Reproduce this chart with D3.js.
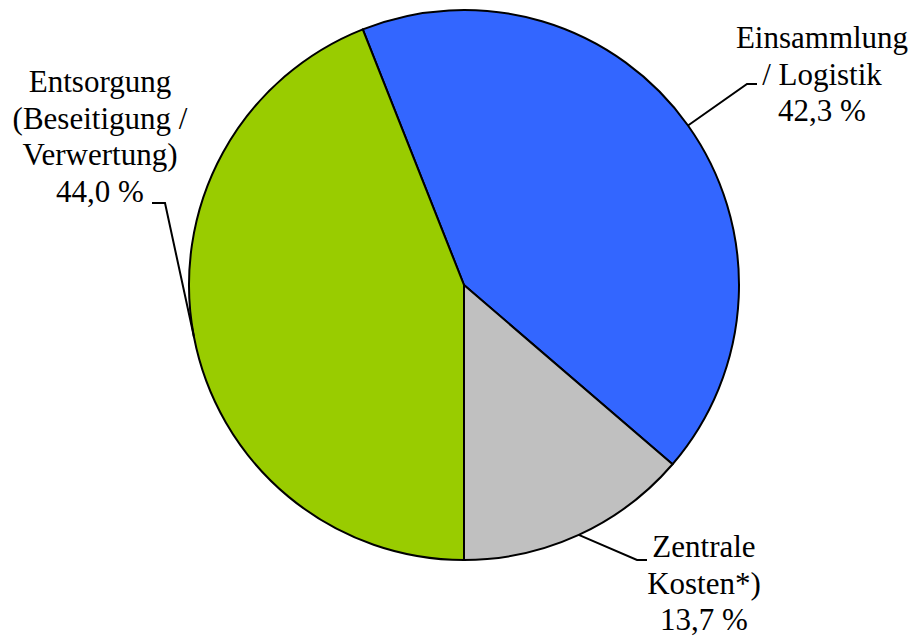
<!DOCTYPE html>
<html>
<head>
<meta charset="utf-8">
<script src="https://cdn.jsdelivr.net/npm/d3@7"></script>
<style>
  html, body { margin: 0; padding: 0; background: #fff; }
  svg { display: block; }
</style>
</head>
<body>
<svg id="chart" width="917" height="638"></svg>
<script>
// Data
const categories = ["Einsammlung / Logistik", "Zentrale Kosten*)", "Entsorgung (Beseitigung / Verwertung)"];
const values = [42.3, 13.7, 44.0];
const valueLabels = ["42,3 %", "13,7 %", "44,0 %"];
const labelLines = [
  ["Einsammlung", "/ Logistik"],
  ["Zentrale", "Kosten*)"],
  ["Entsorgung", "(Beseitigung /", "Verwertung)"]
];
const colors = ["#3366FF", "#C0C0C0", "#99CC00"];

// Layout
const cx = 464, cy = 285, r = 275;
const startDeg = -21.6;
const labelLayout = [
  { x: 822, y: 48, elbow: [747, 84], end: [757, 84] },
  { x: 704, y: 557, elbow: [637, 560], end: [647, 560] },
  { x: 100, y: 92, elbow: [165, 203], end: [152, 203] }
];
const lineH = 36.5;
const fontFamily = "'Liberation Serif', Tinos, 'DejaVu Serif', 'Times New Roman', serif";

const svg = d3.select("#chart");
const g = svg.append("g").attr("transform", `translate(${cx},${cy})`);

const start = startDeg * Math.PI / 180;
const pie = d3.pie().sort(null).value(d => d)
  .startAngle(start).endAngle(start + 2 * Math.PI);
const arcs = pie(values);
const arc = d3.arc().innerRadius(0).outerRadius(r);

g.selectAll("path.slice").data(arcs).enter().append("path")
  .attr("class", "slice")
  .attr("d", arc)
  .attr("fill", (d, i) => colors[i])
  .attr("stroke", "#000")
  .attr("stroke-width", 2)
  .attr("stroke-linejoin", "round");

// Leader lines
arcs.forEach((d, i) => {
  const a = (d.startAngle + d.endAngle) / 2;
  const px = cx + r * Math.sin(a), py = cy - r * Math.cos(a);
  const L = labelLayout[i];
  svg.append("polyline")
    .attr("points", [[px, py], L.elbow, L.end].map(p => p.join(",")).join(" "))
    .attr("fill", "none")
    .attr("stroke", "#000")
    .attr("stroke-width", 2);
});

// Labels
labelLines.forEach((lines, i) => {
  const L = labelLayout[i];
  const all = lines.concat([valueLabels[i]]);
  const t = svg.append("text")
    .attr("text-anchor", "middle")
    .style("font-family", fontFamily)
    .style("font-size", "31px")
    .style("fill", "#000");
  all.forEach((s, j) => {
    t.append("tspan").attr("x", L.x).attr("y", L.y + j * lineH).text(s);
  });
});
</script>
</body>
</html>
